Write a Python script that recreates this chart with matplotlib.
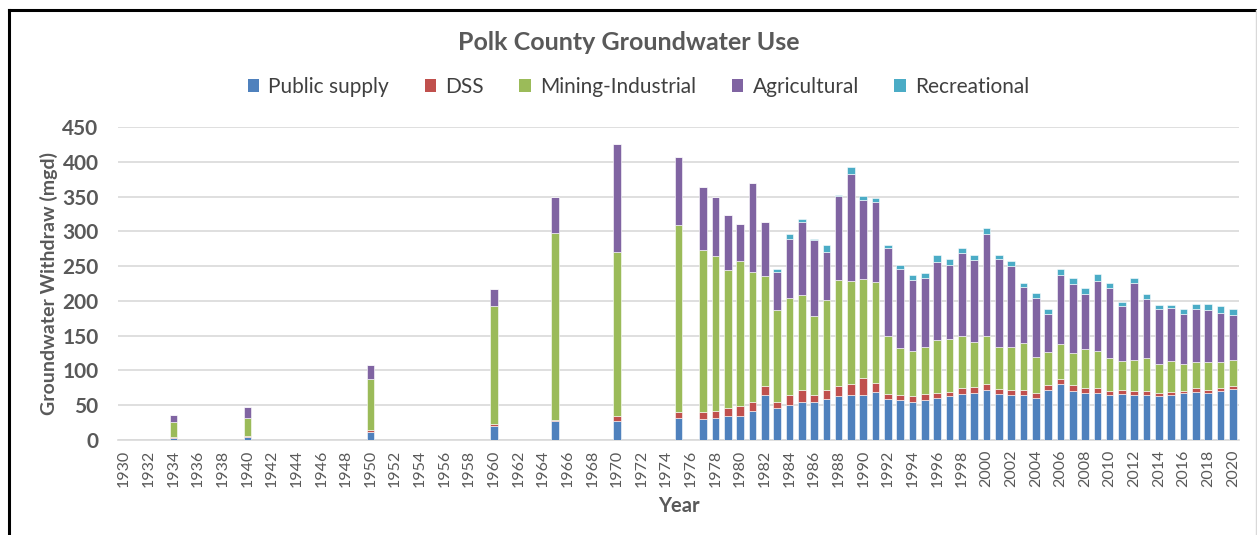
#!/usr/bin/env python3

import numpy as np
import matplotlib.pyplot as plt
import matplotlib as mpl
from matplotlib.lines import Line2D
from matplotlib.patches import Patch

mpl.rcParams["font.family"] = ["Lato", "DejaVu Sans"]

# years with data (all other years 1930-2020 are empty)
years = [1934, 1940, 1950, 1960, 1965, 1970, 1975,
         1977, 1978, 1979, 1980, 1981, 1982, 1983, 1984, 1985, 1986,
         1987, 1988, 1989, 1990, 1991, 1992, 1993, 1994, 1995, 1996,
         1997, 1998, 1999, 2000, 2001, 2002, 2003, 2004, 2005, 2006,
         2007, 2008, 2009, 2010, 2011, 2012, 2013, 2014, 2015, 2016,
         2017, 2018, 2019, 2020]

public_supply = [3, 4, 12, 20, 27, 28, 31,
                 30, 32, 34.5, 35, 41, 64, 45.6, 50, 54, 55,
                 58.5, 63, 65, 65, 68.6, 58.5, 57.6, 55, 57.6, 60,
                 63, 65.7, 67.6, 72, 66, 64.3, 64, 61, 72, 80,
                 71, 67.6, 67.6, 64.3, 65.7, 64.3, 64, 63, 65, 67,
                 69.6, 67.2, 71, 73]
dss = [1.5, 2, 2.5, 2.5, 2, 6.5, 8.6,
       10, 9, 11, 14, 14, 13, 9.6, 14, 18, 10,
       13.5, 14.5, 15, 24, 14, 7, 7, 7.6, 8, 8,
       6.7, 8.7, 9, 9, 8, 7.7, 7.7, 6.7, 6.7, 7.7,
       7.7, 7.7, 7.7, 6.7, 6.7, 6.7, 6.7, 4.8, 4.4, 3.8,
       4.8, 4.8, 4.3, 4.8]
mining_industrial = [21, 26, 73.5, 170, 269, 235.5, 270,
                     233, 224, 199.5, 208, 187, 159, 132, 140.5, 136, 113,
                     129, 152.5, 148, 142, 144.4, 83.5, 67.6, 66, 67.6, 76,
                     76, 75, 64.7, 68.6, 60, 62.3, 68, 51, 48, 50,
                     47, 55.6, 52.8, 46.5, 40.8, 43.6, 46.5, 41.3, 43.6, 39,
                     37.9, 40.3, 37, 37]
agricultural = [10, 16, 20, 24, 51, 156, 97,
                91, 85, 78, 54, 127, 78, 54, 85, 106, 109,
                70, 121, 155, 114.7, 114.7, 126.6, 114, 101, 99, 112,
                106.5, 119.4, 117.5, 146.8, 125.7, 116, 80.7, 86, 54.7, 100,
                98, 79, 101, 101, 79, 111, 86, 78.7, 76.8, 72,
                75.4, 74.4, 70, 65.3]
recreational = [0, 0, 0, 0, 0, 0, 0,
                0, 0, 0, 0, 0, 0, 4, 6, 4, 2.5,
                10, 1.5, 9.5, 5.7, 6.7, 4.8, 6, 7.7, 8.6, 10,
                7.7, 7.2, 6.7, 8, 5.8, 7.2, 4.8, 7.2, 6.7, 7.7,
                8.7, 8.6, 9.6, 7.7, 6.7, 8, 6.2, 5.7, 4.8, 6.2,
                7.2, 8.2, 10, 8]

series_names = ["Public supply", "DSS", "Mining-Industrial", "Agricultural", "Recreational"]
colors = ["#4F81BD", "#C0504D", "#9BBB59", "#8064A2", "#4BACC6"]

all_years = np.arange(1930, 2021)
gray = "#595959"


def main():
    fig = plt.figure(figsize=(12.57, 5.35), dpi=100)
    ax = fig.add_axes([118 / 1257, 1 - 440 / 535, (1239 - 118) / 1257, (440 - 127) / 535])

    x = np.array(years) - 1930
    bottom = np.zeros(len(years))
    for vals, name, c in zip([public_supply, dss, mining_industrial, agricultural, recreational],
                             series_names, colors):
        vals = np.array(vals, dtype=float)
        ax.bar(x, vals, width=0.62, bottom=bottom, color=c, edgecolor="white",
               linewidth=0.4, label=name, zorder=3)
        bottom += vals

    ax.set_xlim(-0.5, len(all_years) - 0.5)
    ax.set_ylim(0, 450)
    ax.set_yticks(np.arange(0, 451, 50))
    ax.set_xticks(np.arange(0, len(all_years), 2))
    ax.set_xticklabels([str(y) for y in all_years[::2]], rotation=90, fontsize=11.5, color=gray)
    for lbl in ax.get_yticklabels():
        lbl.set_fontsize(15)
        lbl.set_fontweight("bold")
        lbl.set_color(gray)

    ax.grid(axis="y", color="#d9d9d9", linewidth=1.2, zorder=0)
    for s in ["top", "right", "left"]:
        ax.spines[s].set_visible(False)
    ax.spines["bottom"].set_color("#d9d9d9")
    ax.spines["bottom"].set_linewidth(1.2)
    ax.tick_params(axis="y", length=0, pad=14)
    ax.tick_params(axis="x", length=0, pad=7)

    ax.set_ylabel("Groundwater Withdraw (mgd)", fontsize=14, fontweight="bold", color=gray, labelpad=3)
    ax.set_xlabel("Year", fontsize=14.5, fontweight="bold", color=gray, labelpad=6)

    fig.text(0.5, 1 - 42 / 535, "Polk County Groundwater Use", ha="center", va="center",
             fontsize=18, fontweight="bold", color=gray)

    handles = [Patch(facecolor=c, edgecolor="none") for c in colors]
    fig.legend(handles, series_names, loc="center", bbox_to_anchor=(0.508, 1 - 87 / 535),
               ncol=5, frameon=False, fontsize=15, handlelength=0.55, handleheight=0.6,
               handletextpad=0.45, columnspacing=1.7, labelcolor="#404040")

    # outer chart border
    fig.add_artist(Line2D([9 / 1257, 9 / 1257], [0, 1 - 10 / 535], color="black", lw=2.2,
                          transform=fig.transFigure))
    fig.add_artist(Line2D([9 / 1257, 1], [1 - 10 / 535, 1 - 10 / 535], color="black", lw=2.2,
                          transform=fig.transFigure))
    fig.add_artist(Line2D([1255.5 / 1257, 1255.5 / 1257], [0, 1 - 10 / 535], color="#d9d9d9", lw=1,
                          transform=fig.transFigure))

    plt.savefig("out.png", dpi=100)


main()
